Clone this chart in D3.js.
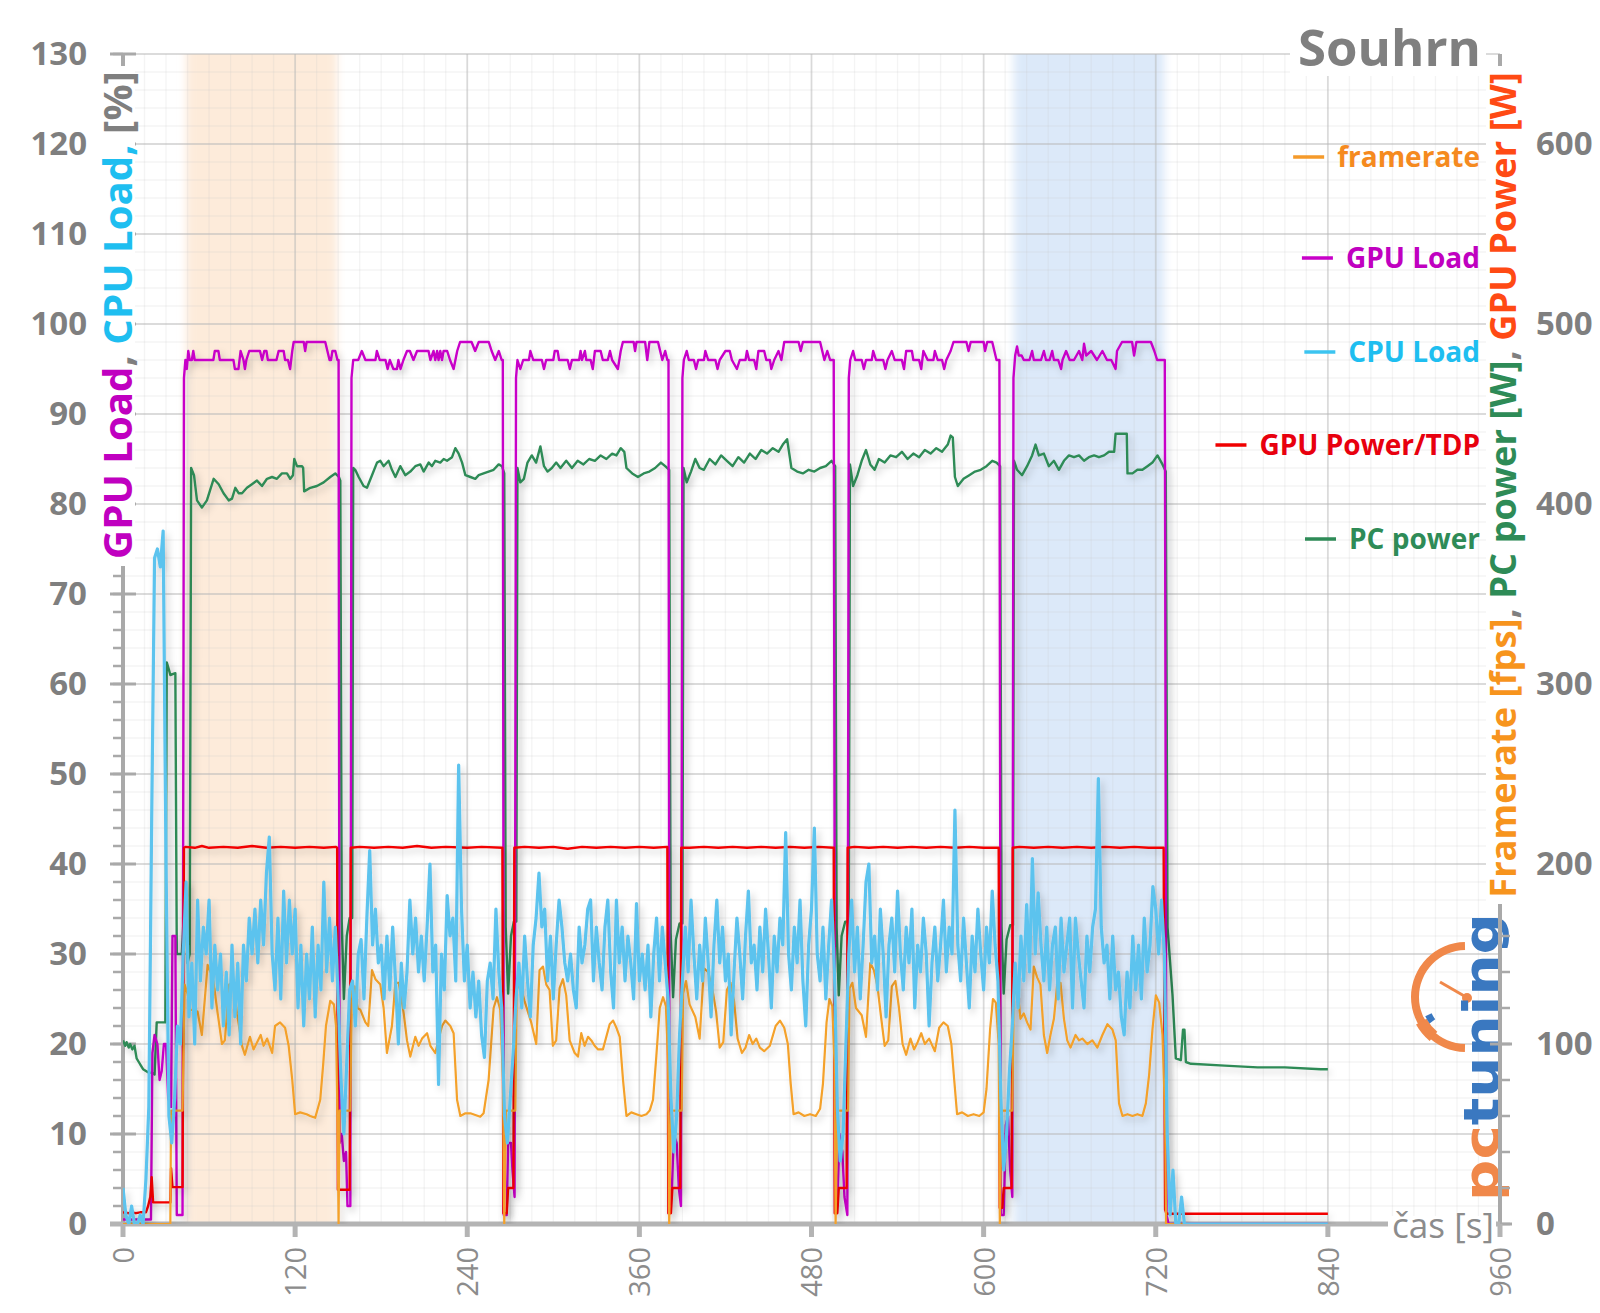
<!DOCTYPE html>
<html><head><meta charset="utf-8">
<script src="https://cdn.jsdelivr.net/npm/d3@7"></script>
<style>
html,body{margin:0;padding:0;background:#fff;}
svg{display:block;font-family:"Open Sans",sans-serif;}
text{white-space:pre;}
</style></head><body>
<svg id="chart" width="1600" height="1313"></svg>
<script>
// ---------------- DATA ----------------
const xTicks = [0,120,240,360,480,600,720,840,960];
const leftTicks = [0,10,20,30,40,50,60,70,80,90,100,110,120,130];
const rightTicks = [0,100,200,300,400,500,600];
const bandRanges = [[44,149],[621,726]];
const legendLabels = ["framerate","GPU Load","CPU Load","GPU Power/TDP","PC power"];

// GPU load [%] : [time s, value]
const gpuLoad = [
 [0,0.5],[19.5,0.5],[20.5,19],[22,21],[24,20],[25.5,16],[27,17],[28.5,20],[30,20],[31.5,14],[33.5,13],[34.5,32],[36.5,32],[37.5,1],[41.5,1],[42.5,94],
 [43.5,96],[44.5,95],[45.5,97],[46.5,96],[48,96],[49,97],[50,96],[63,96],[64,97],[66.5,97],[67.5,96],[77,96],[78,95],[80.5,95],[82,97],[84,96],[85,95],[86,96],[88,97],[95.5,97],[97,96],[98.5,97],[100,97],[101,96],[107,96],[108.5,97],[112,97],[113,96],[115,96],[116.5,95],[118,97],[119,98],[126,98],[127,97],[128,98],[141,98],[142.5,97],[144,96],[145,96],[146,97],[148,97],[149.5,96],[150.3,96],
 [151,9],[152.5,10],[154,7],[155.5,8],[156.5,2],[158.5,2],[159.3,94],
 [160.5,96],[164,96],[166.5,97],[169,96],[176,96],[177,97],[179,96],[183,96],[184.5,95],[186,96],[188.5,95],[191,95],[192,96],[193.5,95],[195.5,96],[198,97],[200,97],[202.5,96],[205,97],[213,97],[214.3,96],[216.5,97],[217.7,96],[219,97],[220,96],[221.2,97],[222.4,96],[223.5,97],[226,97],[228,96],[230.5,95],[233,97],[235,98],[243,98],[245.5,97],[248,98],[255,98],[257,97],[259.5,96],[262,97],[264,96],[264.8,96],
 [265.5,1],[267.5,1],[268.5,9],[270.5,9],[271.5,6],[273,3],[274,94],
 [275,96],[277,95],[279,96],[283,96],[284,97],[286,96],[292,96],[293.5,95],[295,96],[300,96],[301,97],[303,97],[304,96],[310,96],[311.5,95],[313,96],[318,96],[319,97],[320,96],[322,97],[323,96],[326,96],[327.5,95],[329,97],[333,97],[334.5,96],[338,96],[339.5,97],[341,96],[345,95],[347,97],[348.5,98],[356,98],[357,97],[358,98],[364,98],[365.5,96],[367,98],[373,98],[374.5,97],[376,96],[378,97],[379.5,96],[380.3,96],
 [381,2],[382.5,3],[384,10],[386,9],[387.5,4],[389,2],[390,94],
 [391,96],[393,97],[394.5,96],[398,96],[399.5,95],[401,96],[405,96],[406,97],[408,96],[413,96],[414.5,95],[416,96],[420,97],[423,97],[424.5,96],[428,95],[430,96],[434,96],[435,97],[436.5,96],[440,96],[441.5,95],[443,97],[447,97],[448.5,96],[451,96],[452,95],[454,96],[457,97],[459,96],[461,98],[471,98],[472.5,97],[474,98],[486,98],[487.5,97],[489,96],[491,97],[493,96],[495.5,96],
 [496.5,2],[498,2],[499.5,10],[501.5,8],[503,3],[505,1],[506,94],
 [507,96],[509,97],[510.5,96],[515,96],[516.5,95],[518,96],[522,96],[523,97],[525,96],[530,96],[531.5,95],[533,96],[536,97],[538,96],[543,96],[544.5,95],[546,97],[550,97],[551,96],[555,96],[556.5,95],[558,97],[561,96],[565,96],[566,97],[568,96],[571,96],[572.5,95],[574,96],[577,97],[579,98],[588,98],[589.5,97],[591,98],[600,98],[601,97],[602.5,98],[606,98],[607.5,97],[609,96],[611,96],
 [612,1],[614,1],[615.5,11],[617,12],[618.5,6],[620,3],[620.8,94],
 [622,96.5],[623.3,97.5],[624.5,96.5],[626.5,96.5],[628,96],[632,96],[633.8,97],[635,96],[640,96],[642,97],[643.5,96],[646,96],[647.8,97],[649,96],[652,96],[654,95],[655,96],[657.5,97],[660,96],[663,96],[666.5,97],[668.8,96],[670,97.8],[671.5,96.5],[675,97],[679,96],[682.8,97],[686,96],[689,96],[692,95],[693,97],[696.5,98],[703.5,98],[704.9,96.5],[706.5,98],[716.6,98],[719,97],[721,96],[725,96],[726.3,96],
 [727.5,1],[729,0],[840,0]
];

// CPU load [%], one sample every 2 s starting at 0 s
const cpuStart = 0, cpuStep = 2;
const cpuLoad = [
 // 0-42
 4,1,0,2,0,0,1,0,5,13,45,74,75,73,77,40,12,9,14,22,20,30,
 // 44-150
 38,23,29,20,36,27,33,30,36,24, 31,26,30,22,28,21,31,23,29,20, 31,27,34,30,35,29,36,31,39,43,
 30,26,34,25,37,29,36,30,35,24, 31,22,30,25,33,23,31,26,38,28, 34,27,33,25,
 // 152-158
 16,10,18,26,
 // 160-264
 27,22,30,31.6,25,34,41.5,31,35,29, 31,25,32,26,33,27,20,29,24,28, 36,30,34,28,32,27,33,40,28,31,
 15.5,30,26,36.5,32,34,27,51,35,27, 31,24,28,23,27,21,18.5,27,29,25, 35,28,24,
 // 266-272
 12,9,14,19,
 // 274-380
 25,29,24,32,27,23,31,34,39,33, 35,27,32,25,31,36,33,29,27,30, 26,24,33,29,31,35,36,27,33,29,
 26,33,36,28,24,36,29,33,27,32, 29,25,35.6,27,30,26,31,23,30,34, 27,33,29,25,
 // 382-388
 14,8,12,21,
 // 390-496
 27,33,28,36,30,25,31,27,34,29, 23,31,36,29,33,27,30,21,28,34, 30,25,32,37,29,31,26,33,28,35,
 30,24,32,28,34,31,43.5,30,26,33, 29,36,27,22,31,35,44,30,27,33, 25,31,36,28,
 // 498-504
 13,7,10,20,
 // 506-610
 30,36,28,33,25,31,38,40,29,32, 26,35,30,23,31,34,28,37,30,26, 33,29,35,24,31,28,34,30,22,29,
 33,27,31,36,28,33,30,46,31,27, 34,29,24,32,28,35,30,26,33,29, 37,31,27,
 // 612-620
 14,6,10,17,22,
 // 622-726
 29,24,32,27,35.5,28,40.6,30,36.8,31, 27,33,26,31,33,25,34,28,31,34, 24,34,30,27,24,32,28,33,35,49.5,
 33,29,31,25,32,26,28,23,21,28, 24,32,26,31,25,34,28,31,37.5,35, 30,36,30,
 // 728-740
 10,1,6,0,0,3,0
];
const cpuTail = [[840,0]];

// GPU power [W]
const gpuPower = [
 [0,6.5],[4,6],[6,6.5],[9,6],[12,6.5],[16,6.5],[17.5,10],[19,15],[20,26],[21,12],[22.5,12],[33,12],[33.5,31],[34.5,20.5],[41.5,20.5],[42.5,209],
 [43.5,209.5],[50,209],[55,210],[60,209],[70,209.5],[80,209],[90,210],[100,209],[110,209.5],[120,209],[130,209.5],[140,209],[148.5,209.5],[149.3,209],
 [149.8,19],[158,19],[158.8,209],
 [165,209.5],[175,209],[185,209.5],[195,209],[205,210],[215,209],[225,209.5],[240,209],[250,209.5],[264.5,209],
 [265.2,6],[267.5,6],[268.5,20],[272.2,20],[272.8,209],
 [280,209.5],[290,209],[300,209.5],[310,208.5],[320,209.5],[330,209],[340,209.5],[350,209],[360,209.5],[370,209],[379.5,209.5],
 [380.2,6],[382,6],[383,20],[388.5,20],[389.2,209],
 [395,209],[405,209.5],[415,209],[425,209.5],[435,209],[445,209.5],[455,209],[465,209.5],[475,209],[485,209.5],[495.5,209],
 [496.2,6],[498,6],[499,20],[504.5,20],[505.2,209],
 [510,209.5],[520,209],[530,209.5],[540,209],[550,209.5],[560,209],[570,209.5],[580,209],[590,209.5],[600,209],[610.5,209],
 [611.2,9],[613,9],[614,20],[619.5,20],[620.3,209],
 [625,209.5],[635,209],[645,209.5],[655,209],[665,209.5],[675,209],[685,209.5],[695,209],[705,209.5],[715,209],[725.5,209],
 [726.5,8],[727.5,5.7],[840,5.7]
];

// Framerate [fps]
const framerate = [
 [0,0],[33,0],[33.5,63],[41.5,63],[43,133],
 [45,128],[47,119],[52,118],[55,105],[59,144],[61,140],[63,135],[66,117],[69,100],[71,102],[74,133],[77,134],[79.5,117],[83,99],[85,94],[88.5,104],[91,97],[93.5,101],[96,105],[98,99],[100.5,103],[104,95],[106,110],[109.5,112],[113,109],[115.5,99],[118,80],[120,61],[123.5,62],[128,61],[130.5,60],[134,59],[137.5,69],[139.5,88],[141.5,110],[144.5,124],[147,122],[148.5,110],
 [149.5,60],[150.3,0],[151,63],[158.5,63],[159.5,131],
 [161.5,132],[163.5,120],[165.5,119],[169,112],[171,110],[173.6,141],[176,136],[179.4,133],[181.7,120],[184,95],[187.5,110],[189.9,134],[192.2,134],[195.7,117],[198,102],[200.3,93],[203.8,104],[206.1,99],[208.5,103],[212,106],[214.3,99],[217.7,95],[222.4,110],[224.7,113],[228.2,110],[230.5,106],[232.9,69],[235.2,60],[238.7,61.5],[242.2,61.5],[245.6,60.6],[249.1,59.6],[251.4,61.5],[254.9,80],[258.4,120],[260.7,126],[263,119],[264.9,80],
 [265.8,0],[267,63],[273.5,63],[274.5,130],
 [276.5,134],[279.9,124],[284.6,112],[288.1,100],[290.4,141],[292.8,143],[295.1,133],[297.4,130],[299.7,99],[302,102],[304.4,131],[306.7,136],[309,127],[311.4,102],[314.9,95],[317.2,93],[319.5,106],[321.8,99],[324.2,104],[326.5,102],[328.8,99],[331.2,97],[334.6,97],[339.3,111],[341.7,113],[344,109],[346.3,104],[348.6,80],[351,60],[354.4,62],[357.9,61],[361.4,60],[364.9,61],[367.2,63],[369.5,69],[371.8,93],[374.2,120],[376.5,126],[378.5,121],[380,90],
 [380.8,0],[382,63],[389.5,63],[390.5,128],
 [392.5,135],[395,122],[399,115],[402,103],[405,142],[408,140],[411,130],[413.5,118],[416,98],[418.5,101],[421,130],[423.5,134],[426,124],[428.5,103],[431.5,95],[434,98],[436.5,105],[439,100],[441.5,103],[444,98],[447,96],[451,99],[455,110],[458,113],[461,109],[463.5,100],[465.5,78],[467.5,61],[471,62],[475,60],[479,61],[483,60],[486,64],[488,78],[490.5,112],[492.5,125],[494.5,121],[496,90],
 [496.8,0],[498,63],[505.5,63],[506.5,131],
 [508.5,134],[511,120],[515,116],[518,104],[521,145],[523.5,141],[526,132],[528.5,115],[531,99],[533.5,102],[536,132],[538.5,135],[541,120],[543.5,100],[546,94],[549,103],[551.5,97],[554,101],[556.5,106],[559,100],[562,103],[566,96],[569,109],[572,112],[575,110],[577.5,100],[579.5,80],[581.5,61],[585,62],[589,60],[593,61],[597,60],[600,62],[602,75],[604.5,108],[606.5,125],[608.5,123],[610.5,100],
 [611.3,0],[612.5,63],[620,63],[621,127],
 [623.3,133],[625.7,114],[628,117],[630.3,112],[632.7,108],[635,143],[637.3,137],[639.6,133],[642,105],[644.3,95],[646.6,105],[649,114],[651.3,133],[653.6,134],[656,114],[658.3,102],[660.6,98],[664.1,105],[666.5,102],[668.8,103],[672.3,100],[675.8,102],[679.3,98],[682.8,105],[686.3,111],[689.8,108],[692.1,102],[694.4,67],[696.8,60],[700.3,61],[703.8,60],[707.2,61],[710.7,60],[713.1,67],[715.4,83],[717.7,108],[720.1,127],[722.4,123],[724.7,105],[726.5,60],[727.2,0],[840,0]
];

// PC power [W]
const pcPower = [
 [0,102],[1.5,99],[2.5,101],[4,98],[5,100],[6.5,97],[8,99],[9.5,92],[11,90],[12.5,88],[14,86],[16,85],[18,84],[20.5,84],[22,83],[23.5,112],[29.5,112],[30.5,312],[32,308],[33,305],[36.5,306],[37.5,150],[41,150],[43.5,190],[45,145],[46.5,150],[47.5,420],
 [49.5,416],[51.6,402],[55,398],[58.5,402],[63.2,414],[66.7,411],[70.1,406],[73.7,402],[76,403],[78.3,409],[80.6,406],[83,406],[86.4,409],[89.9,411],[93.4,413],[96.9,410],[100.4,414],[103.9,415],[107.3,414],[110.8,417],[114.3,417],[116.6,414],[118.5,416],[119.4,425],[121.3,421],[124.8,421],[125.6,420],[126.3,407],[130.6,409],[135.2,410],[139.9,412],[144.5,415],[148,417],[150.5,415],[151.5,413],
 [152.5,168],[154,125],[156,160],[158,170],[159.8,170],[160.5,420],
 [161.9,419],[164.3,415],[167.7,410],[170.1,409],[173.6,416],[177.1,423],[179.4,424],[181.7,421],[185.2,424],[187.5,419],[189.9,415],[193.3,421],[196.8,416],[200.3,418],[203.8,421],[207.3,422],[209.6,418],[213.1,423],[215.4,421],[217.7,424],[221.2,423],[223.6,425],[225.9,424],[229.4,426],[231.7,431],[234,428],[236.4,423],[238.7,416],[242.2,415],[245.6,414],[248,416],[251.4,417],[254.9,418],[258.4,419],[261.9,422],[264.2,421],[265.8,417],
 [266.8,165],[268.5,128],[270.5,160],[272.5,168],[274.2,168],[275,420],
 [277,412],[279.5,414],[282,423],[285,427],[288,423],[291,432],[293.5,421],[296,418],[299,420],[302,423],[305,420],[309,424],[313,420],[317,424],[321,422],[325,425],[329,424],[333,427],[337,425],[341,428],[344,427],[347,431],[349.5,429],[351,420],[355,417],[359,415],[363,417],[367,418],[371,420],[375,423],[378,421],[380.8,419],
 [381.8,162],[383.5,126],[385.5,158],[388,167],[390,167],[390.8,420],
 [393,412],[396,418],[399,425],[402,420],[405,419],[409,425],[413,422],[417,427],[421,424],[425,421],[429,426],[433,423],[437,428],[441,425],[445,430],[449,428],[453,431],[457,429],[460,433],[463,436],[464.5,428],[466,420],[470,418],[474,417],[478,419],[482,418],[486,420],[490,421],[494,424],[496.5,421],
 [497.5,165],[499,127],[501,160],[503.5,168],[506,168],[506.8,422],
 [509,410],[512,416],[515,424],[518,430],[521,422],[524,419],[527,425],[531,423],[535,427],[539,426],[543,429],[547,425],[551,428],[555,426],[559,430],[563,428],[567,431],[571,429],[575,433],[577,438],[578.5,437],[580,415],[582,410],[586,414],[590,416],[594,418],[598,419],[602,421],[606,424],[609,423],[611.5,421],
 [612.5,165],[614,128],[616,158],[618.5,166],[620.5,166],[621.2,424],
 [623.3,419],[626.8,416],[630.3,421],[633.8,427],[636.2,433],[638.5,427],[642,428],[645.5,421],[649,424],[652.5,419],[656,424],[659.5,427],[663,426],[666.5,427],[670,424],[673.4,426],[677,427],[680.4,426],[684,427],[687.4,429],[691,429],[692,439],[699.8,439],[700.3,417],[703.8,417],[707.2,419],[710.7,419],[714.2,421],[717.7,423],[721.2,427],[724.7,422],[727,418],
 [728.2,165],[731.7,127],[734,92],[737.5,91],[739,108],[740,108],[741,90],[744.5,89],[768,88],[791,87],[810,87],[835,86],[840,86]
];

// ---------------- CHART ----------------
const M = {left:123, right:1500, top:54, bottom:1224};
const x = d3.scaleLinear().domain([0,960]).range([M.left, M.right]);
const yL = d3.scaleLinear().domain([0,130]).range([M.bottom, M.top]);
const yR = d3.scaleLinear().domain([0,650]).range([M.bottom, M.top]);
const grey = "#7f7f7f";

const svg = d3.select("#chart");
svg.append("rect").attr("width",1600).attr("height",1313).attr("fill","#fff");
const defs = svg.append("defs");
defs.append("filter").attr("id","soft").attr("x","-10%").attr("y","-5%").attr("width","120%").attr("height","110%")
  .append("feGaussianBlur").attr("stdDeviation",4);
const sh = defs.append("filter").attr("id","shadow").attr("x","-3%").attr("y","-3%").attr("width","106%").attr("height","106%");
sh.append("feDropShadow").attr("dx",3).attr("dy",4).attr("stdDeviation",3.5).attr("flood-color","#000").attr("flood-opacity",0.2);
defs.append("clipPath").attr("id","plotclip").append("rect")
  .attr("x",M.left).attr("y",M.top).attr("width",M.right-M.left).attr("height",M.bottom-M.top);

// shaded bands (under the grid)
const bandColors = ["#FDEBDA","#DCE9F9"];
const bandG = svg.append("g").attr("clip-path","url(#plotclip)");
bandG.selectAll("rect").data(bandRanges).join("rect")
  .attr("x",d=>x(d[0])).attr("width",d=>x(d[1])-x(d[0]))
  .attr("y",M.top-30).attr("height",M.bottom-M.top+60)
  .attr("fill",(d,i)=>bandColors[i]).attr("filter","url(#soft)");

// grid
const grid = svg.append("g");
grid.selectAll(".vmin").data(d3.range(0,961,15)).join("line")
  .attr("x1",d=>x(d)).attr("x2",d=>x(d)).attr("y1",M.top).attr("y2",M.bottom)
  .attr("stroke","rgba(200,200,200,0.2)").attr("stroke-width",1.3);
grid.selectAll(".hmin").data(d3.range(0,131,2)).join("line")
  .attr("x1",M.left).attr("x2",M.right).attr("y1",d=>yL(d)).attr("y2",d=>yL(d))
  .attr("stroke","rgba(200,200,200,0.2)").attr("stroke-width",1.3);
grid.selectAll(".vmaj").data(xTicks).join("line")
  .attr("x1",d=>x(d)).attr("x2",d=>x(d)).attr("y1",M.top).attr("y2",M.bottom)
  .attr("stroke","rgba(185,185,185,0.45)").attr("stroke-width",1.8);
grid.selectAll(".hmaj").data(leftTicks).join("line")
  .attr("x1",M.left).attr("x2",M.right).attr("y1",d=>yL(d)).attr("y2",d=>yL(d))
  .attr("stroke","rgba(185,185,185,0.45)").attr("stroke-width",1.8);

// logo (pctuning)
const logo = svg.append("g");
logo.append("path")
  .attr("d", d3.arc()({innerRadius:47,outerRadius:55,startAngle:-0.02,endAngle:-Math.PI+0.02}))
  .attr("transform","translate(1466,997) rotate(180) scale(-1,1)")
  .attr("fill","#F0884A");
logo.append("path").attr("d",d3.arc()({innerRadius:45,outerRadius:57,startAngle:-Math.PI*0.78,endAngle:-Math.PI*0.66}))
  .attr("transform","translate(1466,997)").attr("fill","#F0884A");
logo.append("path").attr("d",d3.arc()({innerRadius:38,outerRadius:45,startAngle:-Math.PI*0.70,endAngle:-Math.PI*0.64}))
  .attr("transform","translate(1466,997)").attr("fill","#3A78C0");
logo.append("line").attr("x1",1466).attr("y1",997).attr("x2",1440).attr("y2",982)
  .attr("stroke","#F0884A").attr("stroke-width",3);
logo.append("circle").attr("cx",1467).attr("cy",998).attr("r",5).attr("fill","#F0884A");
const logoText = logo.append("text").attr("transform","translate(1499,1201) rotate(-90)")
  .style("font-family","'DejaVu Sans',sans-serif").style("font-weight",700).style("font-size","50px");
logoText.append("tspan").text("pc").attr("fill","#F0884A");
logoText.append("tspan").text("tuning").attr("fill","#3A78C0");
logoText.attr("textLength",288).attr("lengthAdjust","spacingAndGlyphs");

// axis lines (drawn under series)
const axG = svg.append("g");
axG.append("line").attr("x1",M.left).attr("x2",M.left).attr("y1",M.top).attr("y2",M.bottom)
  .attr("stroke","#a9a9a9").attr("stroke-width",4);
axG.append("line").attr("x1",M.right).attr("x2",M.right).attr("y1",M.top).attr("y2",M.bottom)
  .attr("stroke","#a9a9a9").attr("stroke-width",4);
axG.selectAll(".lmin").data(d3.range(0,131,2)).join("line")
  .attr("x1",M.left-10).attr("x2",M.left).attr("y1",d=>yL(d)).attr("y2",d=>yL(d))
  .attr("stroke","#a9a9a9").attr("stroke-width",2.5);
axG.selectAll(".lmaj").data(leftTicks).join("line")
  .attr("x1",M.left-13).attr("x2",M.left+13).attr("y1",d=>yL(d)).attr("y2",d=>yL(d))
  .attr("stroke","#a9a9a9").attr("stroke-width",3);
axG.selectAll(".rmin").data(d3.range(0,651,20)).join("line")
  .attr("x1",M.right).attr("x2",M.right+10).attr("y1",d=>yR(d)).attr("y2",d=>yR(d))
  .attr("stroke","#a9a9a9").attr("stroke-width",2.5);
axG.selectAll(".rmaj").data(rightTicks).join("line")
  .attr("x1",M.right-10).attr("x2",M.right+12).attr("y1",d=>yR(d)).attr("y2",d=>yR(d))
  .attr("stroke","#a9a9a9").attr("stroke-width",3);
axG.append("line").attr("x1",M.left-13).attr("x2",M.right).attr("y1",M.bottom).attr("y2",M.bottom)
  .attr("stroke","#b4b4b4").attr("stroke-width",5);
axG.selectAll(".xt").data(xTicks).join("line")
  .attr("x1",d=>x(d)).attr("x2",d=>x(d)).attr("y1",M.bottom).attr("y2",M.bottom+13)
  .attr("stroke","#b4b4b4").attr("stroke-width",5);

// series
const cpuPairs = cpuLoad.map((v,i)=>[cpuStart + i*cpuStep, v]).concat(cpuTail);
const series = [
  {data:pcPower,  y:yR, color:"#2E8B57", w:2.4},
  {data:gpuLoad,  y:yL, color:"#C800C8", w:2.4},
  {data:gpuPower, y:yR, color:"#F20000", w:2.4},
  {data:framerate,y:yR, color:"#F4A12A", w:2.2},
  {data:cpuPairs, y:yL, color:"#5CC3EE", w:3.2}
];
const sG = svg.append("g").attr("clip-path","url(#plotclip)");
series.forEach(s=>{
  const line = d3.line().x(d=>x(d[0])).y(d=>s.y(d[1]));
  sG.append("path").attr("d",line(s.data)).attr("fill","none")
    .attr("stroke",s.color).attr("stroke-width",s.w).attr("stroke-linejoin","round")
    .attr("filter","url(#shadow)");
});

// tick labels via d3 axes
const lAx = svg.append("g").attr("transform",`translate(${M.left},0)`)
  .call(d3.axisLeft(yL).tickValues(leftTicks).tickSize(0).tickPadding(36));
const rAx = svg.append("g").attr("transform",`translate(${M.right},0)`)
  .call(d3.axisRight(yR).tickValues(rightTicks).tickSize(0).tickPadding(36));
[lAx,rAx].forEach(g=>{
  g.select(".domain").remove();
  g.selectAll("text").attr("fill",grey).style("font-size","33px").style("font-weight",700)
    .style("font-family","'Open Sans',sans-serif");
});
const bAx = svg.append("g").attr("transform",`translate(0,${M.bottom})`)
  .call(d3.axisBottom(x).tickValues(xTicks).tickSize(0));
bAx.select(".domain").remove();
bAx.selectAll("text").attr("fill","#8c8c8c").style("font-size","29px").style("font-weight",400)
  .style("font-family","'Open Sans',sans-serif")
  .attr("text-anchor","end").attr("y",0).attr("dy","0.36em")
  .attr("transform","translate(0,23) rotate(-90)");

// axis titles
function vTitle(cx, cy, parts, len){
  const t = svg.append("text").attr("transform",`translate(${cx},${cy}) rotate(-90)`)
    .attr("text-anchor","middle").attr("dy","0.36em")
    .style("font-weight",700).style("font-size","40px");
  parts.forEach(p=>t.append("tspan").text(p[0]).attr("fill",p[1]));
  const L = t.node().getComputedTextLength();
  t.style("font-size",(40*len/L)+"px");
  return t;
}
svg.append("rect").attr("x",101).attr("y",66).attr("width",34).attr("height",500).attr("fill","#fff");
vTitle(118, 315, [["GPU Load","#C000C0"],[", ",grey],["CPU Load","#1EBEF0"],[",","#1EBEF0"],[" [%]",grey]], 488);
svg.append("rect").attr("x",1486).attr("y",66).attr("width",34).attr("height",838).attr("fill","#fff");
vTitle(1503, 485, [["Framerate [fps]","#F7941D"],[", ",grey],["PC power [W]","#2E8B57"],[", ",grey],["GPU Power [W]","#FF4A14"]], 826);

// chart title
svg.append("rect").attr("x",1290).attr("y",20).attr("width",196).attr("height",56).attr("fill","#fff");
const title = svg.append("text").attr("x",1481).attr("y",66).attr("text-anchor","end")
  .attr("fill",grey).style("font-weight",700).style("font-size","52px").text("Souhrn");
{ const L = title.node().getComputedTextLength(); title.style("font-size",(52*183/L)+"px"); }

// x-axis title
svg.append("rect").attr("x",1388).attr("y",1216).attr("width",108).attr("height",16).attr("fill","#fff");
const xt = svg.append("text").attr("x",1392).attr("y",1238).attr("fill","#8c8c8c")
  .style("font-size","34px").text("čas [s]");
{ const L = xt.node().getComputedTextLength(); xt.style("font-size",(34*102/L)+"px"); }

// legend
const legendColors = ["#F58A1F","#C000C0","#1EBEF0","#E8000E","#2E8B57"];
const legendLineColors = ["#F59A2A","#C800C8","#3CC4F0","#F00000","#2E8B57"];
const legendY = [157,258,352,445,539];
const lg = svg.append("g");
legendLabels.forEach((lab,i)=>{
  const t = lg.append("text").attr("x",1480).attr("y",legendY[i]).attr("dy","0.35em")
    .attr("text-anchor","end").attr("fill",legendColors[i])
    .style("font-weight",700).style("font-size","28px").text(lab);
  const L = t.node().getComputedTextLength();
  lg.append("line").attr("x1",1480-L-44).attr("x2",1480-L-13)
    .attr("y1",legendY[i]).attr("y2",legendY[i])
    .attr("stroke",legendLineColors[i]).attr("stroke-width",3.5);
});
</script>
</body></html>
